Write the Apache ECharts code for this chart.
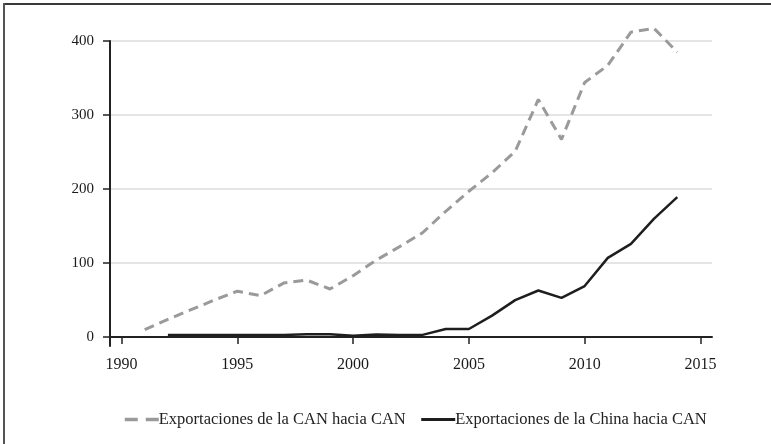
<!DOCTYPE html>
<html>
<head>
<meta charset="utf-8">
<script src="https://cdn.jsdelivr.net/npm/echarts@6/dist/echarts.min.js"></script>
<style>
  html, body { margin: 0; padding: 0; background: #fff; overflow: hidden; }
  #wrap { position: relative; width: 771px; height: 444px; overflow: hidden; }
  #chart { width: 771px; height: 444px; }
  .edge { position: absolute; pointer-events: none; }
  #edge-top { left: 3px; top: 3px; width: 768px; height: 2px; background: #3a3a3a; }
  #edge-left { left: 3px; top: 3px; width: 2px; height: 441px; background: #555; }
</style>
</head>
<body>
<div id="wrap">
  <div id="chart"></div>
  <div class="edge" id="edge-top"></div>
  <div class="edge" id="edge-left"></div>
</div>
<script>
// values
const yearsCan = [1991, 1992, 1993, 1994, 1995, 1996, 1997, 1998, 1999, 2000, 2001, 2002,
  2003, 2004, 2005, 2006, 2007, 2008, 2009, 2010, 2011, 2012, 2013, 2014]
const canToCan = [10, 24, 37, 50, 62, 56, 73, 77, 65, 83, 104, 122,
  141, 170, 197, 222, 251, 321, 267, 344, 367, 412, 417, 385]

const yearsChina = [1992, 1993, 1994, 1995, 1996, 1997, 1998, 1999, 2000, 2001, 2002,
  2003, 2004, 2005, 2006, 2007, 2008, 2009, 2010, 2011, 2012, 2013, 2014]
const chinaToCan = [3, 3, 3, 3, 3, 3, 4, 4, 2, 3.5, 3,
  3, 11, 11, 29, 50, 63, 53, 69, 107, 126, 160, 189]

const xTicks = [1990, 1995, 2000, 2005, 2010, 2015]
const yTicks = [0, 100, 200, 300, 400]

const seriesNames = ['Exportaciones de la CAN hacia CAN', 'Exportaciones de la China hacia CAN']

const serif = '"Liberation Serif", "DejaVu Serif", serif'

const chart = echarts.init(document.getElementById('chart'))

chart.setOption({
  animation: false,
  grid: { left: 110, right: 59, top: 41, bottom: 98 },
  legend: {
    left: 118,
    top: 406,
    itemWidth: 34,
    itemHeight: 14,
    itemGap: 14,
    itemStyle: { opacity: 0 },
    textStyle: { fontFamily: serif, fontSize: 16.5, color: '#222', padding: [0, 0, 0, -5] },
    data: [
      { name: seriesNames[0], lineStyle: { width: 3.5, type: [13, 8] } },
      { name: seriesNames[1], lineStyle: { width: 3 } }
    ]
  },
  xAxis: {
    type: 'value',
    min: 1989.5,
    max: 2015.5,
    axisLine: { show: true, lineStyle: { color: '#222', width: 2 } },
    axisTick: { show: true, length: 7, lineStyle: { color: '#222', width: 1.5 }, customValues: xTicks },
    axisLabel: {
      customValues: xTicks,
      margin: 11,
      fontFamily: serif,
      fontSize: 16,
      color: '#1a1a1a',
      formatter: (v) => String(v)
    },
    splitLine: { show: false }
  },
  yAxis: {
    type: 'value',
    min: -12,
    max: 400,
    axisLine: { show: true, lineStyle: { color: '#222', width: 2 } },
    axisTick: { show: true, length: 7, lineStyle: { color: '#222', width: 1.5 }, customValues: yTicks },
    axisLabel: { customValues: yTicks, margin: 16, fontFamily: serif, fontSize: 15, color: '#1a1a1a' },
    splitLine: { show: true, lineStyle: { color: '#dcdcdc', width: 1.5 } }
  },
  series: [
    {
      name: seriesNames[0],
      type: 'line',
      data: yearsCan.map((y, i) => [y, canToCan[i]]),
      showSymbol: false,
      symbol: 'none',
      clip: false,
      color: '#9a9a9a',
      lineStyle: { color: '#9a9a9a', width: 3, type: [10, 6] }
    },
    {
      name: seriesNames[1],
      type: 'line',
      data: yearsChina.map((y, i) => [y, chinaToCan[i]]),
      showSymbol: false,
      symbol: 'none',
      clip: false,
      color: '#1e1e1e',
      lineStyle: { color: '#1e1e1e', width: 2.5 }
    }
  ]
})
</script>
</body>
</html>
